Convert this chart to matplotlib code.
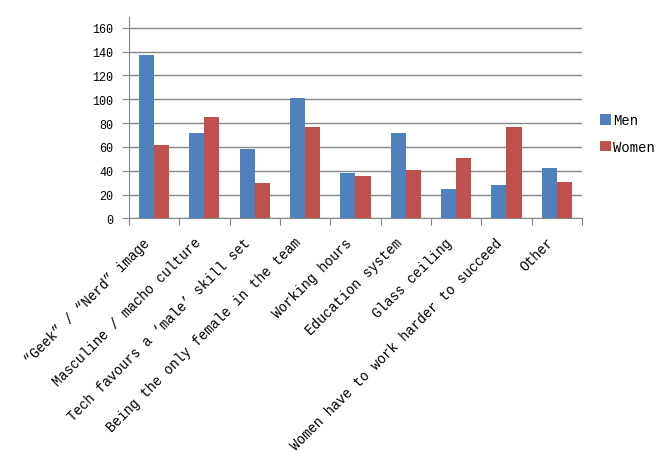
import matplotlib
matplotlib.use("Agg")
import matplotlib.pyplot as plt
import numpy as np

categories = [
    "\u201cGeek\u201d / \u201cNerd\u201d image",
    "Masculine / macho culture",
    "Tech favours a \u2018male\u2019 skill set",
    "Being the only female in the team",
    "Working hours",
    "Education system",
    "Glass ceiling",
    "Women have to work harder to succeed",
    "Other",
]
men = [137, 72, 58, 101, 38, 72, 25, 28, 42]
women = [62, 85, 30, 77, 36, 41, 51, 77, 31]
y_ticks = [0, 20, 40, 60, 80, 100, 120, 140, 160]

plt.rcParams["font.family"] = ["Liberation Mono", "DejaVu Sans Mono"]
grey = "#868686"

fig = plt.figure(figsize=(6.64, 4.64), dpi=100)
ax = fig.add_axes([0.194, 0.527, 0.6825, 0.434])

x = np.arange(len(categories))
w = 0.3
ax.bar(x - w / 2, men, w, color="#4F81BD", label="Men", zorder=3)
ax.bar(x + w / 2, women, w, color="#C0504D", label="Women", zorder=3)

ax.set_xlim(-0.5, len(categories) - 0.5)
ax.set_ylim(0, 169)
ax.set_yticks(y_ticks)
ax.yaxis.grid(True, color=grey, lw=1, zorder=0)
ax.tick_params(axis="y", length=5, color=grey, labelsize=8.5, pad=6)

ax.set_xticks(np.arange(len(categories) + 1) - 0.5)
ax.set_xticklabels([])
ax.tick_params(axis="x", length=5, color=grey)
for xi, lab in zip(x, categories):
    ax.text(xi - 0.12, -18, lab, rotation=45, ha="right", va="center",
            rotation_mode="anchor", fontsize=9.8)

for side in ["top", "right"]:
    ax.spines[side].set_visible(False)
for side in ["left", "bottom"]:
    ax.spines[side].set_color(grey)

fig.legend(loc="center left", bbox_to_anchor=(0.885, 0.71), frameon=False,
           fontsize=10, handlelength=0.8, handleheight=0.8, handletextpad=0.1,
           labelspacing=0.9)

fig.savefig("out.png", dpi=100)
